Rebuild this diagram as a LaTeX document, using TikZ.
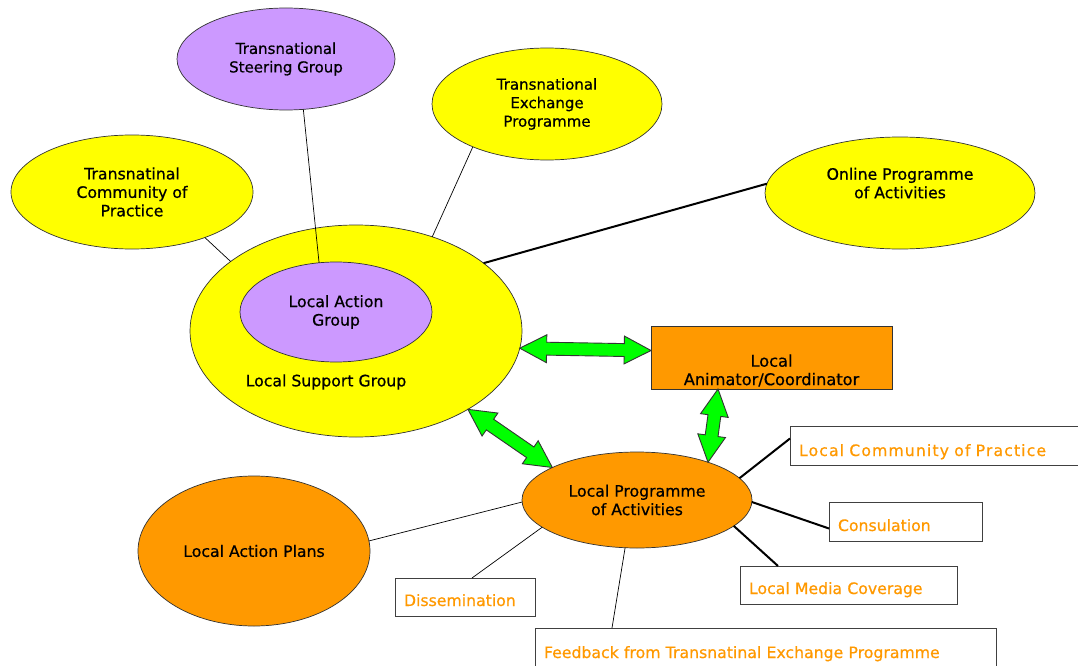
\documentclass[tikz,border=0pt]{standalone}
\usepackage{fontspec}
\setmainfont[FakeBold=0.6]{DejaVu Sans}
\newfontfamily\widefont[FakeBold=0.6,LetterSpace=7]{DejaVu Sans}
\usetikzlibrary{shapes.geometric,shapes.arrows,calc}
\definecolor{yel}{HTML}{FFFF00}
\definecolor{pur}{HTML}{CC99FF}
\definecolor{org}{HTML}{FF9900}
\definecolor{grn}{HTML}{00FF00}
\newcommand\dblarr[2]{\path let \p1=($(#2)-(#1)$), \n1={atan2(\y1,\x1)}, \n2={veclen(\x1,\y1)} in node[garrow, rotate=\n1, minimum height=\n2] at ($(#1)!0.5!(#2)$) {};}
\begin{document}
\begin{tikzpicture}[x=1pt,y=-1pt,
  font=\fontsize{15.7}{18.5}\selectfont,
  ell/.style={ellipse, draw=black!80, line width=0.7pt, inner sep=0pt, outer sep=0pt, align=center},
  box/.style={draw=black!75, line width=1pt, fill=white, text=org, anchor=north west, inner xsep=9pt, inner ysep=0pt, outer sep=0pt, align=left},
  thin/.style={draw=black, line width=0.7pt},
  thick/.style={draw=black, line width=2pt},
  garrow/.style={double arrow, draw=black!80, fill=grn, line width=0.9pt, double arrow head extend=7.5pt, double arrow tip angle=55, inner xsep=0pt, inner ysep=6pt, outer sep=0pt}
]
\useasboundingbox (0,0) rectangle (1078,666);
\clip (0,0) rectangle (1078,666);
\fill[white] (0,0) rectangle (1078,666);

% upper group
\node[ell, fill=yel, minimum width=332pt, minimum height=212pt] (lsg) at (356,331) {};
\node (lsgt) at (326,382) {Local Support Group};
\node[ell, fill=pur, minimum width=192pt, minimum height=100pt] (lag) at (336,312) {Local Action\\Group};
\node[ell, fill=pur, minimum width=218pt, minimum height=102pt, font=\fontsize{15}{18.5}\selectfont] (tsg) at (286,59) {Transnational\\Steering Group};
\node[ell, fill=yel, minimum width=242pt, minimum height=114pt] (tcp) at (132,192) {Transnatinal\\Community of\\Practice};
\node[ell, fill=yel, minimum width=230pt, minimum height=112pt, font=\fontsize{15}{18.5}\selectfont] (tep) at (547,104) {Transnational\\Exchange\\Programme};
\node[ell, fill=yel, minimum width=270pt, minimum height=112pt] (opa) at (900,193) {Online Programme\\of Activities\\[1.5pt]};

\draw[thin] (tsg.289.4) -- (lag.109.8);
\draw[thin] (tcp.328.6) -- (lsg.151.7);
\draw[thin] (tep.210.1) -- (lsg.51);
\draw[thick] (opa.176.6) -- (lsg.28.1);

% lower group
\node[ell, fill=org, minimum width=230pt, minimum height=96pt] (lpa) at (637,500) {Local Programme\\of Activities};
\node[ell, fill=org, minimum width=232pt, minimum height=150pt] (lap) at (254,551) {Local Action Plans};
\node[draw=black!80, line width=0.8pt, fill=org, anchor=north west, minimum width=241pt, minimum height=63pt, inner sep=0pt, outer sep=0pt,
      label={[align=center, yshift=-13pt, font=\fontsize{16.2}{18.5}\selectfont]center:Local\\Animator/Coordinator}] (anim) at (651,326) {};

\node[box, text width=282pt, text height=30pt, text depth=9pt, font=\widefont\fontsize{15.7}{18.5}\selectfont] (lcp) at (790,426) {Local Community of Practice};
\node[box, text width=135pt, text height=29pt, text depth=10pt] (con) at (829,502) {Consulation};
\node[box, text width=199pt, text height=28pt, text depth=10pt] (med) at (740,566) {Local Media Coverage};
\node[box, text width=122pt, text height=28pt, text depth=10pt] (dis) at (395,578) {Dissemination};
\node[box, text width=443pt, text height=30pt, text depth=40pt] (fb) at (535,628) {Feedback from Transnatinal Exchange Programme};

\draw[thin] (lpa.181.5) -- (lap.5);
\draw[thin] (lpa.196.4) -- ([xshift=7pt]dis.north);
\draw[thin] (lpa.256.5) -- ([xshift=77pt]fb.north west);
\draw[thick] (lpa.345.3) -- ([xshift=38pt]med.north west);
\draw[thick] (lpa.359) -- ([yshift=-7pt]con.west);
\draw[thick] (lpa.12.6) -- ([yshift=7pt]lcp.west);

% green arrows
\coordinate (a1) at (lsg.-6.5);
\coordinate (a2) at ([yshift=7pt]anim.west);
\coordinate (b1) at ([xshift=67pt]anim.south west);
\coordinate (b2) at (lpa.28);
\coordinate (c1) at (lsg.325.3);
\coordinate (c2) at (lpa.159.4);
\dblarr{a1}{a2}
\dblarr{b1}{b2}
\dblarr{c1}{c2}
\end{tikzpicture}
\end{document}
